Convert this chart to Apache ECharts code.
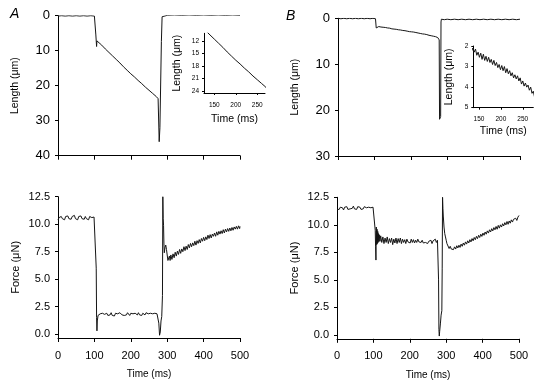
<!DOCTYPE html>
<html><head><meta charset="utf-8">
<script src="https://cdn.jsdelivr.net/npm/echarts@6/dist/echarts.min.js"></script>
<style>html,body{margin:0;padding:0;background:#fff}#c{width:541px;height:385px}</style>
</head><body><div id="c"></div>
<script>
// ---- data (time ms, value) ----
const lengthA = [[0,0.1],[10,0],[20,0.1],[30,0],[40,0.1],[50,0],[60,0.1],[70,0],[80,0.1],[90,0],[100,0.1],[103,0],[104,5.5],[106,8.8],[107,7.2],[110,7.4],[120,8.4],[130,9.5],[140,10.5],[150,11.5],[160,12.5],[170,13.5],[180,14.6],[190,15.6],[200,16.6],[210,17.5],[220,18.5],[230,19.4],[240,20.4],[250,21.3],[260,22.2],[270,23.1],[275,23.7],[277,24.2],[278,36.0],[279,36.0],[280,32.0],[283,31.7],[284,7.4],[286,0.3],[288,-0.2],[300,-0.1],[320,-0.2],[340,-0.1],[360,-0.2],[380,-0.1],[400,-0.2],[420,-0.1],[440,-0.2],[460,-0.1],[480,-0.2],[500,-0.1]];
const lengthB = [[0,0],[8,0.1],[16,0],[24,0.1],[32,0],[40,0.1],[48,0],[56,0.1],[64,0],[72,0.1],[80,0],[88,0.1],[96,0],[103,0.1],[104,0.3],[105,2.1],[106,1.85],[109,2.0],[112,1.8],[115,2.05],[118,1.9],[121,2.1],[124,1.95],[127,2.2],[130,2.0],[133,2.25],[136,2.1],[139,2.3],[142,2.15],[145,2.45],[148,2.3],[151,2.55],[154,2.35],[157,2.65],[160,2.4],[163,2.7],[166,2.5],[169,2.75],[172,2.55],[175,2.8],[178,2.65],[181,2.9],[184,2.7],[187,2.95],[190,2.8],[193,3.05],[196,2.9],[199,3.15],[202,2.95],[205,3.2],[208,3.0],[211,3.3],[214,3.1],[217,3.35],[220,3.2],[223,3.45],[226,3.3],[229,3.55],[232,3.4],[235,3.6],[238,3.45],[241,3.7],[244,3.55],[247,3.85],[250,3.7],[253,3.95],[256,3.8],[259,4.0],[262,3.9],[265,4.15],[268,4.0],[271,4.3],[274,4.2],[277,4.5],[278,4.7],[279,22.0],[281,21.7],[282,21.4],[283,0.8],[284,0.2],[292,0.3],[300,0.2],[310,0.3],[320,0.2],[330,0.3],[340,0.2],[350,0.3],[360,0.2],[370,0.3],[380,0.2],[390,0.3],[400,0.2],[410,0.3],[420,0.2],[430,0.3],[440,0.2],[450,0.3],[460,0.2],[470,0.3],[480,0.2],[490,0.3],[500,0.2]];
const forceA = [[0,10.4],[3,10.6],[6,10.45],[9,10.7],[12,10.5],[15,10.65],[18,10.4],[21,10.7],[24,10.55],[27,10.75],[30,10.5],[33,10.6],[36,10.45],[39,10.7],[42,10.55],[45,10.8],[48,10.5],[51,10.65],[54,10.4],[57,10.7],[60,10.55],[63,10.75],[66,10.5],[69,10.6],[72,10.45],[75,10.7],[78,10.5],[81,10.65],[84,10.4],[87,10.7],[90,10.55],[93,10.6],[96,10.5],[99,10.65],[102,10.6],[104,10.6],[105,6.0],[106,1.5],[107,0.3],[108,1.2],[110,1.7],[113,1.65],[116,1.85],[119,1.7],[122,1.9],[125,1.75],[128,1.8],[131,1.65],[134,1.9],[137,1.7],[140,1.85],[143,1.75],[146,1.95],[149,1.7],[152,1.8],[155,1.65],[158,1.9],[161,1.75],[164,1.85],[167,1.7],[170,1.95],[173,1.8],[176,1.75],[179,1.9],[182,1.7],[185,1.85],[188,1.75],[191,1.95],[194,1.8],[197,1.7],[200,1.9],[203,1.75],[206,1.85],[209,1.7],[212,1.9],[215,1.8],[218,1.75],[221,1.95],[224,1.75],[227,1.85],[230,1.7],[233,1.9],[236,1.8],[239,1.75],[242,1.95],[245,1.8],[248,1.85],[251,1.7],[254,1.9],[257,1.75],[260,1.85],[263,1.8],[266,1.9],[269,1.75],[272,1.85],[275,1.8],[277,1.0],[279,-0.1],[281,0.2],[283,1.2],[285,1.6],[287,3.5],[288,12.5],[289,10.5],[290,9.9],[291,8.2],[292,7.4],[294,7.9],[296,8.1],[298,7.7],[300,7.2],[302,6.7],[304,6.6],[306,7.1],[308,6.7],[310,7.2],[313,6.8],[316,7.3],[319,6.95],[322,7.45],[325,7.1],[328,7.55],[331,7.25],[334,7.7],[337,7.35],[340,7.75],[343,7.5],[346,7.95],[349,7.6],[352,8.0],[355,7.7],[358,8.15],[361,7.85],[364,8.25],[367,7.95],[370,8.3],[373,8.05],[376,8.45],[379,8.1],[382,8.5],[385,8.25],[388,8.6],[391,8.3],[394,8.7],[397,8.45],[400,8.8],[403,8.5],[406,8.85],[409,8.6],[412,9.0],[415,8.7],[418,9.05],[421,8.75],[424,9.1],[427,8.9],[430,9.2],[433,8.9],[436,9.3],[439,9.0],[442,9.35],[445,9.1],[448,9.4],[451,9.15],[454,9.5],[457,9.2],[460,9.55],[463,9.3],[466,9.6],[469,9.35],[472,9.65],[475,9.4],[478,9.7],[481,9.45],[484,9.75],[487,9.55],[490,9.8],[493,9.55],[496,9.85],[499,9.6],[500,9.8]];
const forceB = [[0,11.4],[3,11.55],[6,11.4],[9,11.6],[12,11.45],[15,11.55],[18,11.35],[21,11.6],[24,11.5],[27,11.65],[30,11.4],[33,11.55],[36,11.45],[39,11.6],[42,11.5],[45,11.7],[48,11.45],[51,11.55],[54,11.4],[57,11.65],[60,11.5],[63,11.6],[66,11.4],[69,11.55],[72,11.45],[75,11.65],[78,11.5],[81,11.55],[84,11.4],[87,11.6],[90,11.45],[93,11.55],[96,11.5],[99,11.6],[102,11.5],[104,11.55],[105,9.5],[106,8.0],[107,6.8],[108,9.8],[109,8.2],[110,9.6],[111,8.3],[112,9.4],[113,8.4],[114,9.2],[115,8.5],[116,9.1],[118,8.5],[120,9.0],[123,8.4],[126,8.9],[129,8.3],[132,8.8],[135,8.4],[138,8.9],[141,8.3],[144,8.75],[147,8.4],[150,8.8],[153,8.2],[156,8.7],[159,8.35],[162,8.8],[165,8.3],[168,8.75],[171,8.4],[174,8.8],[177,8.3],[180,8.7],[183,8.4],[186,8.65],[189,8.3],[192,8.7],[195,8.45],[198,8.6],[201,8.35],[204,8.7],[207,8.4],[210,8.65],[213,8.35],[216,8.6],[219,8.4],[222,8.7],[225,8.45],[228,8.55],[231,8.4],[234,8.6],[237,8.35],[240,8.5],[243,8.4],[246,8.55],[249,8.3],[252,8.5],[255,8.4],[258,8.6],[261,8.3],[264,8.55],[267,8.4],[270,8.7],[273,8.4],[276,8.6],[278,8.5],[279,5.0],[280,0.5],[281,-0.1],[282,0.3],[284,1.0],[286,1.8],[288,2.2],[289,6.0],[290,12.5],[291,11.5],[292,10.8],[294,9.8],[296,9.2],[298,8.9],[300,8.6],[302,8.3],[305,8.15],[308,7.85],[311,8.05],[314,7.8],[317,7.95],[320,7.75],[323,8.0],[326,7.8],[329,8.1],[332,7.9],[335,8.15],[338,7.95],[341,8.25],[344,8.05],[347,8.35],[350,8.15],[353,8.45],[356,8.25],[359,8.55],[362,8.35],[365,8.65],[368,8.45],[371,8.75],[374,8.55],[377,8.85],[380,8.65],[383,8.95],[386,8.75],[389,9.05],[392,8.85],[395,9.15],[398,8.95],[401,9.25],[404,9.05],[407,9.35],[410,9.15],[413,9.45],[416,9.25],[419,9.55],[422,9.35],[425,9.65],[428,9.45],[431,9.75],[434,9.55],[437,9.85],[440,9.6],[443,9.95],[446,9.7],[449,10.0],[452,9.8],[455,10.1],[458,9.9],[461,10.2],[464,10.0],[467,10.3],[470,10.05],[473,10.35],[476,10.15],[479,10.45],[482,10.25],[485,10.5],[488,10.35],[491,10.6],[494,10.4],[497,10.7],[500,10.85]];
// ---- tick labels ----
const forceTicks = [0, 2.5, 5, 7.5, 10, 12.5];
const insetATicksY = [12, 15, 18, 21, 24];
const insetTicksX = [150, 200, 250];
const xName = 'Time (ms)';
const lenName = 'Length (μm)';
const forceName = 'Force (μN)';

const FF = 'Liberation Sans, Arial, Helvetica, sans-serif';
const BLACK = '#000';

function xMain(gi, labels) {
  return {
    gridIndex: gi, type: 'value', min: 0, max: 500, interval: 100,
    axisLine: { onZero: false, lineStyle: { color: BLACK, width: 1 } },
    axisTick: { length: 4, lineStyle: { color: BLACK } },
    axisLabel: { show: labels, fontSize: 11, color: BLACK, margin: 12, fontFamily: FF },
    splitLine: { show: false },
    name: labels ? xName : '', nameLocation: 'middle', nameGap: 31,
    nameTextStyle: { fontSize: 10, color: BLACK, fontFamily: FF }
  };
}
function yLen(gi, max) {
  return {
    gridIndex: gi, type: 'value', min: 0, max: max, interval: 10, inverse: true,
    axisLine: { onZero: false, lineStyle: { color: BLACK, width: 1 } },
    axisTick: { length: 3, lineStyle: { color: BLACK } },
    axisLabel: { fontSize: 13, color: BLACK, margin: 8, fontFamily: FF },
    splitLine: { show: false },
    name: lenName, nameLocation: 'middle', nameGap: 37,
    nameTextStyle: { fontSize: 10.5, color: BLACK, fontFamily: FF }
  };
}
function yForce(gi) {
  return {
    gridIndex: gi, type: 'value', min: -0.35, max: 12.5,
    axisLine: { onZero: false, lineStyle: { color: BLACK, width: 1 } },
    axisTick: { length: 3, customValues: forceTicks, lineStyle: { color: BLACK } },
    axisLabel: { fontSize: 11, color: BLACK, margin: 8, fontFamily: FF, customValues: forceTicks,
      formatter: v => Number(v).toFixed(1) },
    splitLine: { show: false },
    name: forceName, nameLocation: 'middle', nameGap: 37,
    nameTextStyle: { fontSize: 11, color: BLACK, fontFamily: FF }
  };
}
function xInset(gi, min, max, gap, margin) {
  return {
    gridIndex: gi, type: 'value', min: min, max: max,
    axisLine: { onZero: false, lineStyle: { color: BLACK, width: 1 } },
    axisTick: { length: 2, customValues: insetTicksX, lineStyle: { color: BLACK } },
    axisLabel: { fontSize: 6.5, color: BLACK, margin: margin, fontFamily: FF, customValues: insetTicksX },
    splitLine: { show: false },
    name: xName, nameLocation: 'middle', nameGap: gap,
    nameTextStyle: { fontSize: 10.5, color: BLACK, fontFamily: FF }
  };
}
function series(xi, data) {
  return { type: 'line', xAxisIndex: xi, yAxisIndex: xi, data: data, symbol: 'none', showSymbol: false,
    clip: true, silent: true, animation: false, lineStyle: { color: '#151515', width: 1 } };
}

const chart = echarts.init(document.getElementById('c'), null, { renderer: 'canvas' });
chart.setOption({
  backgroundColor: '#fff',
  animation: false,
  title: [
    { text: 'A', left: 5, top: 2, textStyle: { fontSize: 14, fontStyle: 'italic', fontWeight: 'normal', color: BLACK, fontFamily: FF } },
    { text: 'B', left: 281, top: 4, textStyle: { fontSize: 14, fontStyle: 'italic', fontWeight: 'normal', color: BLACK, fontFamily: FF } }
  ],
  grid: [
    { left: 58, top: 15.7, width: 182, height: 140 },
    { left: 58, top: 196.7, width: 182, height: 141.3 },
    { left: 338, top: 18.3, width: 182, height: 137.7 },
    { left: 337, top: 197.3, width: 182, height: 141.5 },
    { left: 204, top: 33.3, width: 61, height: 59.7 },
    { left: 473.3, top: 46, width: 60, height: 61.7 }
  ],
  xAxis: [
    xMain(0, false), xMain(1, true), xMain(2, false), xMain(3, true),
    xInset(4, 126, 268, 21, 9), xInset(5, 137, 274, 18, 8)
  ],
  yAxis: [
    yLen(0, 40), yForce(1), yLen(2, 30), yForce(3),
    {
      gridIndex: 4, type: 'value', min: 10.1, max: 24.5, inverse: true,
      axisLine: { onZero: false, lineStyle: { color: BLACK, width: 1 } },
      axisTick: { length: 2, customValues: insetATicksY, lineStyle: { color: BLACK } },
      axisLabel: { fontSize: 6.5, color: BLACK, margin: 5, fontFamily: FF, customValues: insetATicksY },
      splitLine: { show: false },
      name: lenName, nameLocation: 'middle', nameGap: 21,
      nameTextStyle: { fontSize: 10.5, color: BLACK, fontFamily: FF }
    },
    {
      gridIndex: 5, type: 'value', min: 2, max: 5, interval: 1, inverse: true,
      axisLine: { onZero: false, lineStyle: { color: BLACK, width: 1 } },
      axisTick: { length: 2, lineStyle: { color: BLACK } },
      axisLabel: { fontSize: 6.5, color: BLACK, margin: 5, fontFamily: FF },
      splitLine: { show: false },
      name: lenName, nameLocation: 'middle', nameGap: 19,
      nameTextStyle: { fontSize: 10.5, color: BLACK, fontFamily: FF }
    }
  ],
  series: [
    series(0, lengthA), series(1, forceA), series(2, lengthB), series(3, forceB),
    series(4, lengthA), series(5, lengthB)
  ]
});
</script>
</body></html>
